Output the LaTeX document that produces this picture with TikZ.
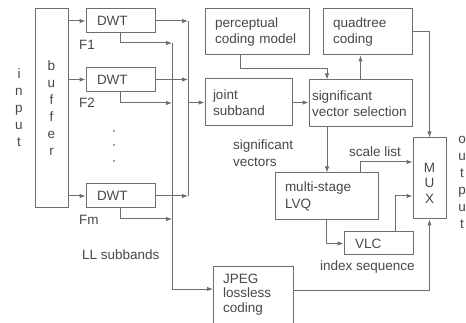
\documentclass[tikz,border=0pt]{standalone}
\usepackage{fontspec}
\setmainfont{Liberation Sans}
\usetikzlibrary{arrows.meta}
\definecolor{lncol}{RGB}{110,110,110}
\definecolor{txcol}{RGB}{72,72,72}
\begin{document}
\begin{tikzpicture}[x=1pt,y=-1pt,
  font=\fontsize{13.5pt}{16.5pt}\selectfont,
  every node/.style={text=txcol},
  box/.style={draw=lncol, line width=1pt, align=left, inner ysep=0pt},
  wire/.style={draw=lncol, line width=1pt},
  arr/.style={draw=lncol, line width=1pt, -{Latex[length=6pt,width=4.5pt]}},
  lbl/.style={anchor=base west, inner sep=0pt},
  vword/.style={align=center, inner sep=0pt, font=\fontsize{13.5pt}{17pt}\selectfont},
  dotmark/.style={circle, fill=lncol, inner sep=0pt, minimum size=2pt},
]
\useasboundingbox[fill=white] (0,0) rectangle (466,323);

% left column
\node[vword] (inputlbl) at (19,108) {i\\n\\p\\u\\t};
\node[box, minimum width=33pt, minimum height=199pt, align=center, inner xsep=0pt,
      font=\fontsize{13.5pt}{17pt}\selectfont] (buffer) at (51.5,108.5) {b\\u\\f\\f\\e\\r};

\node[box, text width=47pt, inner xsep=11pt, minimum height=24pt] (dwt1) at (120.5,21) {DWT};
\node[box, text width=47pt, inner xsep=11pt, minimum height=24pt] (dwt2) at (120.5,79.5) {DWT};
\node[box, text width=47pt, inner xsep=11pt, minimum height=24pt] (dwtm) at (120.5,196) {DWT};

\node[lbl] (f1) at (79,50) {F1};
\node[lbl] (f2) at (79,108) {F2};
\node[lbl] (fm) at (79,225) {Fm};
\node[dotmark] (d1) at (114,131) {};
\node[dotmark] (d2) at (114,145) {};
\node[dotmark] (d3) at (114,161) {};
\node[lbl] (ll) at (82,260) {LL subbands};

% middle / right boxes
\node[box, text width=84pt, inner xsep=10pt, minimum height=46pt] (percep) at (257,32) {perceptual\\coding model};
\node[box, text width=69pt, inner xsep=10pt, minimum height=46pt] (quad) at (367.5,32) {quadtree\\coding};
\node[box, text width=71pt, inner xsep=8pt, minimum height=47pt] (joint) at (248.5,102.5) {joint\\subband};
\node[box, text width=97pt, inner xsep=3pt, minimum height=47pt] (sig) at (360.5,103.5) {significant\\vector selection};
\node[box, text width=83pt, inner xsep=10pt, minimum height=47pt] (lvq) at (326.5,196.5) {multi-stage\\LVQ};
\node[box, text width=47pt, inner xsep=11pt, minimum height=23pt] (vlc) at (378.5,243.5) {VLC};
\node[box, minimum width=33pt, minimum height=81pt] (mux) at (429.5,178.5) {};
\node[vword, font=\fontsize{13.5pt}{15.5pt}\selectfont] (muxtxt) at (429.5,183) {M\\U\\X};
\node[vword] (outputlbl) at (462,182) {o\\u\\t\\p\\u\\t};

\node[box, anchor=north west, minimum width=80pt, minimum height=64pt] (jpeg) at (213,266) {};
\node[anchor=north west, inner sep=0pt, align=left, font=\fontsize{13.5pt}{14.5pt}\selectfont] (jpegtxt) at (223,273.5) {JPEG\\lossless\\coding};

\node[anchor=north west, inner sep=0pt, align=left] (sv) at (233,140) {significant\\vectors};
\node[lbl] (sl) at (349,157) {scale list};
\node[lbl] (is) at (320,270) {index sequence};

% buffer -> DWTs
\draw[arr] (buffer.east |- dwt1.west) -- (dwt1.west);
\draw[arr] (buffer.east |- dwt2.west) -- (dwt2.west);
\draw[arr] (buffer.east |- dwtm.west) -- (dwtm.west);

% upper bus
\coordinate (b1) at (188,21);
\coordinate (b2) at (188,79.5);
\coordinate (bm) at (188,196);
\coordinate (bj) at (188,102.5);
\draw[wire] (b1) -- (bm);
\draw[arr] (dwt1.east) -- (b1);
\draw[arr] (dwt2.east) -- (b2);
\draw[arr] (dwtm.east) -- (bm);
\draw[arr] (bj) -- (joint.west);

% lower bus (LL subbands)
\coordinate (c1) at (172,43);
\coordinate (c2) at (172,103);
\coordinate (cm) at (172,219);
\coordinate (cj) at (172,289);
\draw[arr] (dwt1.south) |- (c1);
\draw[arr] (dwt2.south) |- (c2);
\draw[arr] (dwtm.south) |- (cm);
\draw[wire] (c1) -- (cj);
\draw[arr] (cj) -- (cj -| jpeg.west);

% right part
\draw[arr] ([xshift=-17pt]percep.south) -- ++(0,13) -| ([xshift=-33.5pt]sig.north);
\draw[arr] (sig.north) -- (sig.north |- quad.south);
\draw[arr] (joint.east) -- (joint.east -| sig.west);
\draw[arr] (quad.east) -| (mux.north);
\draw[arr] ([xshift=-33.5pt]sig.south) -- ([xshift=-33.5pt]sig.south |- lvq.north);
\draw[arr] ([xshift=33.5pt]lvq.north) |- ([yshift=16.5pt]mux.west);
\draw[arr] (lvq.south) |- (vlc.west);
\draw[arr] ([xshift=16.5pt]vlc.north) |- ([yshift=-17.5pt]mux.west);
\draw[arr] ([yshift=8pt]jpeg.east) -| (mux.south);
\end{tikzpicture}
\end{document}
